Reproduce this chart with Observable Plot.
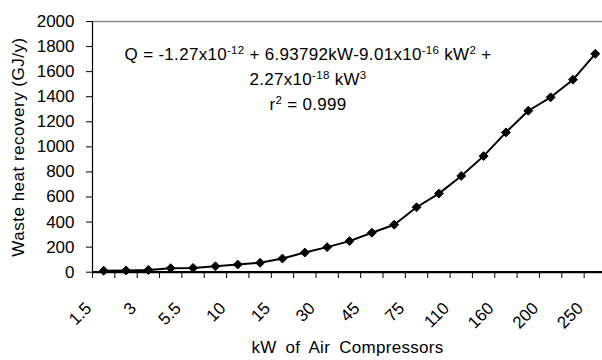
<!DOCTYPE html>
<html>
<head>
<meta charset="utf-8">
<script src="https://cdn.jsdelivr.net/npm/d3@7"></script>
<script src="https://cdn.jsdelivr.net/npm/@observablehq/plot@0.6"></script>
<style>
  html, body { margin: 0; padding: 0; background: #fff; }
  #chart svg { display: block; }
</style>
</head>
<body>
<div id="chart"></div>
<script>
// Categories (kW of air compressors); only every other label is visible in the original
const categories = ["1.5","2.2","3","4","5.5","7.5","10","11","15","22","30","37","45","55","75","90","110","132","160","180","200","225","250"];
// Waste heat recovery (GJ/y)
const values = [12, 14, 18, 32, 34, 47, 61, 75, 109, 157, 200, 248, 315, 379, 518, 627, 768, 926, 1115, 1288, 1395, 1536, 1742];
const yTicks = [0, 200, 400, 600, 800, 1000, 1200, 1400, 1600, 1800, 2000];
const xTitle = "kW of Air Compressors";
const yTitle = "Waste heat recovery (GJ/y)";

const data = categories.map((c, i) => ({cat: c, i: i + 0.5, v: values[i]}));
const labelData = data.filter((d, k) => k % 2 === 0);
const boundaries = d3.range(0, categories.length + 1);

const FONT = "'Liberation Sans', Arial, sans-serif";

const chart = Plot.plot({
  width: 602,
  height: 360,
  marginLeft: 92,
  marginRight: 0,
  marginTop: 21,
  marginBottom: 88,
  style: {fontFamily: FONT, fontSize: "17px", color: "#000", background: "#fff"},
  x: {type: "linear", domain: [0, categories.length], range: [92, 606]},
  y: {domain: [0, 2000], range: [271.7, 21]},
  marks: [
    Plot.ruleY([2000], {stroke: "#8c8c8c", strokeWidth: 1.5, x1: 0, x2: categories.length}),
    Plot.axisY({ticks: yTicks, tickSize: 6, tickPadding: 12, tickFormat: d3.format("d"), label: null, stroke: "#000", fill: "#000", fontSize: 17}),
    Plot.axisX({ticks: boundaries, tickSize: 6, tickFormat: () => "", label: null, stroke: "#000"}),
    Plot.ruleX([0], {stroke: "#000", strokeWidth: 1.2}),
    Plot.ruleY([0], {stroke: "#000", strokeWidth: 2.2}),
    Plot.text(labelData, {x: "i", frameAnchor: "bottom", text: "cat", rotate: -45, textAnchor: "end", lineAnchor: "middle", dx: -15, dy: 33, fontSize: 17, fill: "#000", className: "xlab"}),
    Plot.line(data, {x: "i", y: "v", stroke: "#000", strokeWidth: 2}),
    Plot.dot(data, {x: "i", y: "v", symbol: "diamond2", r: 4, fill: "#000", stroke: "#000", strokeWidth: 1}),
    Plot.text([xTitle], {frameAnchor: "bottom", dy: 80, fontSize: 17, fill: "#000", lineAnchor: "bottom", className: "xtitle"}),
    Plot.text([yTitle], {frameAnchor: "left", textAnchor: "middle", dx: -74, rotate: -90, fontSize: 17, fill: "#000", lineAnchor: "middle", className: "ytitle"})
  ]
});

document.getElementById("chart").appendChild(chart);

const svg = d3.select(chart);
svg.selectAll(".xtitle text").attr("word-spacing", "4px").attr("letter-spacing", "0.3px");
svg.selectAll(".ytitle text").attr("letter-spacing", "0.5px");

// Regression equation annotation with superscripts
const eq = svg.append("g").attr("font-family", FONT).attr("fill", "#000").attr("text-anchor", "middle").attr("letter-spacing", "0.3px");
const lines = [
  {y: 60, parts: [["Q = -1.27x10"], ["-12", true], [" + 6.93792kW-9.01x10"], ["-16", true], [" kW"], ["2", true], [" +"]]},
  {y: 85, parts: [["2.27x10"], ["-18", true], [" kW"], ["3", true]]},
  {y: 110, parts: [["r"], ["2", true], [" = 0.999"]]}
];
lines.forEach(line => {
  const t = eq.append("text").attr("x", 308).attr("y", line.y).attr("font-size", 17);
  line.parts.forEach(([s, sup]) => {
    const ts = t.append("tspan").text(s);
    if (sup) ts.attr("font-size", 11.5).attr("baseline-shift", "6");
  });
});
</script>
</body>
</html>
